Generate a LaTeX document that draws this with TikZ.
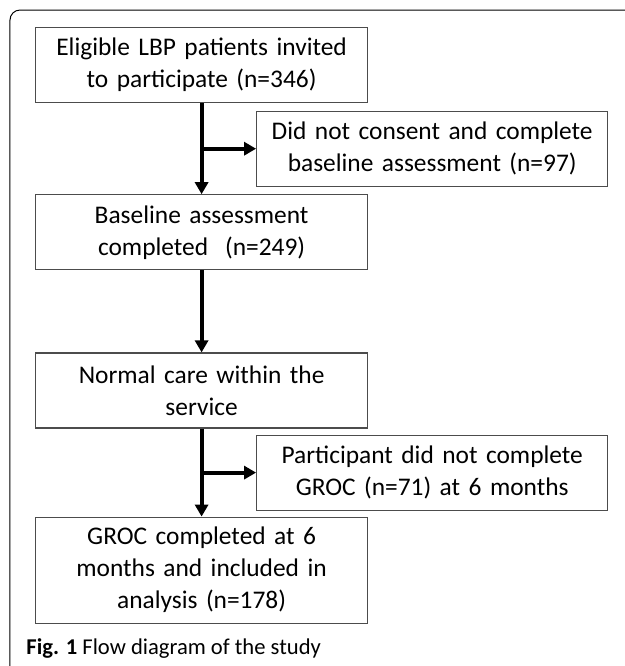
\documentclass[tikz,border=0pt]{standalone}
\usepackage{fontspec}
\setmainfont{Carlito}
\usetikzlibrary{positioning,calc,arrows.meta}

\begin{document}
\begin{tikzpicture}[x=1pt,y=1pt,>={Triangle[length=6pt,width=6.5pt]},
      main box/.style={draw=black!70,line width=0.6pt,text width=160pt,inner xsep=3pt,inner ysep=2pt,
        minimum height=37.5pt,align=center,font=\fontsize{12.7}{16}\selectfont},
      side box/.style={main box,text width=169.5pt},
      flow/.style={->,line width=2pt}]
      \useasboundingbox (0,0) rectangle (312.5,-333);
      % outer frame
      \draw[line width=0.5pt,rounded corners=5pt] (5,-340) |- (320,-5);

      \node[main box,anchor=north west] (elig) at (17.5,-13.5) {Eligible LBP patients invited\\ to participate (n=346)};
      \node[main box] (base) [below=45.5pt of elig] {Baseline assessment\\ completed~ (n=249)};
      \node[main box] (care) [below=41pt of base] {Normal care within the\\ service};
      \node[main box,minimum height=53pt] (groc) [below=44pt of care] {GROC completed at 6\\ months and included in\\ analysis (n=178)};

      \coordinate (j1) at ($(elig.south)!0.5!(base.north)$);
      \coordinate (j2) at ($(care.south)!0.5!(groc.north)$);
      \node[side box] (nocons) [right=27.25pt of j1] {Did not consent and complete\\ baseline assessment (n=97)};
      \node[side box] (nogroc) [right=27.25pt of j2] {Participant did not complete\\ GROC (n=71) at 6 months};

      \draw[flow] (elig) -- (base);
      \draw[flow] (base) -- (care);
      \draw[flow] (care) -- (groc);
      \draw[flow] (j1) -- (nocons);
      \draw[flow] (j2) -- (nogroc);

      \node[anchor=base west,inner sep=0pt,font=\fontsize{11.3}{13}\selectfont] (cap) at (13,-327) {\textbf{Fig. 1} Flow diagram of the study};
    \end{tikzpicture}
\end{document}
